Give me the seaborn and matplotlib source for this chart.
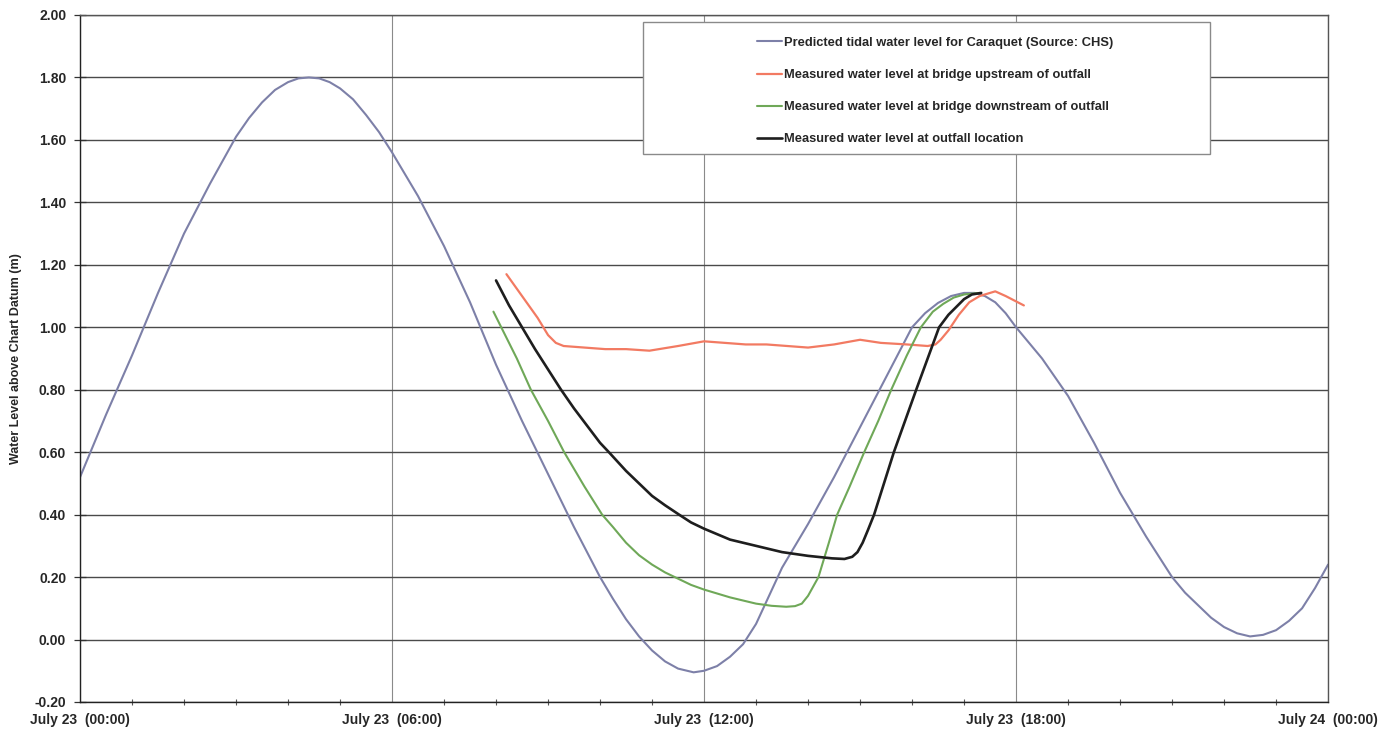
import matplotlib
matplotlib.use("Agg")
import matplotlib.pyplot as plt
import numpy as np
import pandas as pd
import seaborn as sns
from matplotlib.patches import Rectangle
from matplotlib.ticker import MultipleLocator, FormatStrFormatter, FixedLocator

# ---------------- data (hours since July 23 00:00, metres above chart datum) ----------------
tide_hours = [0.0, 0.5, 1.0, 1.5, 2.0, 2.5, 3.0, 3.25, 3.5, 3.75, 4.0, 4.2, 4.4, 4.6, 4.8, 5.0,
              5.25, 5.5, 5.75, 6.0, 6.5, 7.0, 7.5, 8.0, 8.5, 9.0, 9.5, 10.0, 10.25, 10.5, 10.75,
              11.0, 11.25, 11.5, 11.8, 12.0, 12.25, 12.5, 12.75, 13.0, 13.25, 13.5, 14.0, 14.5,
              15.0, 15.5, 16.0, 16.25, 16.5, 16.75, 17.0, 17.2, 17.4, 17.6, 17.8, 18.0, 18.5,
              19.0, 19.5, 20.0, 20.5, 21.0, 21.25, 21.5, 21.75, 22.0, 22.25, 22.5, 22.75, 23.0,
              23.25, 23.5, 23.75, 24.0]
tide_level = [0.52, 0.72, 0.91, 1.11, 1.30, 1.46, 1.61, 1.67, 1.72, 1.76, 1.785, 1.797, 1.80,
              1.797, 1.785, 1.765, 1.73, 1.68, 1.625, 1.56, 1.42, 1.26, 1.08, 0.88, 0.70, 0.53,
              0.36, 0.20, 0.13, 0.065, 0.01, -0.035, -0.07, -0.093, -0.105, -0.10, -0.085, -0.055,
              -0.015, 0.05, 0.14, 0.23, 0.37, 0.52, 0.68, 0.84, 1.00, 1.045, 1.078, 1.10, 1.11,
              1.11, 1.10, 1.08, 1.045, 1.00, 0.90, 0.78, 0.63, 0.47, 0.33, 0.20, 0.15, 0.11, 0.07,
              0.04, 0.02, 0.01, 0.015, 0.03, 0.06, 0.10, 0.165, 0.24]

up_hours = [8.2, 8.5, 8.8, 9.0, 9.15, 9.3, 9.7, 10.1, 10.5, 10.95, 11.5, 12.0, 12.4, 12.8, 13.2,
            13.6, 14.0, 14.5, 15.0, 15.4, 15.9, 16.3, 16.45, 16.55, 16.7, 16.9, 17.1, 17.3,
            17.6, 17.8, 18.15]
up_level = [1.17, 1.10, 1.03, 0.975, 0.95, 0.94, 0.935, 0.93, 0.93, 0.925, 0.94, 0.955, 0.95,
            0.945, 0.945, 0.94, 0.935, 0.945, 0.96, 0.95, 0.945, 0.94, 0.945, 0.96, 0.99, 1.04,
            1.08, 1.10, 1.115, 1.10, 1.07]

down_hours = [7.95, 8.1, 8.4, 8.67, 9.0, 9.31, 9.7, 10.04, 10.25, 10.5, 10.75, 11.0, 11.25,
              11.5, 11.75, 12.0, 12.5, 13.0, 13.3, 13.58, 13.75, 13.88, 14.0, 14.1, 14.2, 14.4,
              14.56, 14.8, 15.08, 15.35, 15.6, 15.9, 16.17, 16.4, 16.6, 16.8, 17.0, 17.3]
down_level = [1.05, 1.00, 0.90, 0.80, 0.70, 0.60, 0.49, 0.40, 0.36, 0.31, 0.27, 0.24, 0.215,
              0.195, 0.175, 0.16, 0.135, 0.115, 0.108, 0.105, 0.107, 0.115, 0.14, 0.17, 0.20,
              0.31, 0.40, 0.49, 0.60, 0.70, 0.80, 0.91, 1.00, 1.05, 1.075, 1.095, 1.105, 1.11]

out_hours = [8.0, 8.25, 8.5, 8.75, 9.0, 9.25, 9.5, 9.75, 10.0, 10.17, 10.5, 10.75, 11.0, 11.25,
             11.52, 11.75, 12.0, 12.5, 13.0, 13.5, 14.0, 14.46, 14.7, 14.85, 14.95, 15.05,
             15.15, 15.27, 15.65, 16.08, 16.52, 16.7, 16.85, 17.0, 17.15, 17.33]
out_level = [1.15, 1.07, 1.00, 0.93, 0.865, 0.80, 0.74, 0.685, 0.63, 0.60, 0.54, 0.50, 0.46,
             0.43, 0.40, 0.375, 0.355, 0.32, 0.30, 0.28, 0.268, 0.26, 0.258, 0.265, 0.28, 0.31,
             0.35, 0.40, 0.60, 0.80, 1.00, 1.04, 1.065, 1.09, 1.105, 1.11]

series_names = ["Predicted tidal water level for Caraquet (Source: CHS)",
                "Measured water level at bridge upstream of outfall",
                "Measured water level at bridge downstream of outfall",
                "Measured water level at outfall location"]
series_colors = ["#7d80a8", "#f27a62", "#6fa858", "#1e1e1e"]
series_widths = [1.5, 1.6, 1.5, 1.9]

x_tick_hours = [0, 6, 12, 18, 24]
x_tick_labels = ["July 23  (00:00)", "July 23  (06:00)", "July 23  (12:00)",
                 "July 23  (18:00)", "July 24  (00:00)"]
y_label = "Water Level above Chart Datum (m)"

# ---------------- build long table ----------------
frames = []
for name, hrs, lev in zip(series_names,
                          [tide_hours, up_hours, down_hours, out_hours],
                          [tide_level, up_level, down_level, out_level]):
    frames.append(pd.DataFrame({"hour": hrs, "level": lev, "series": name}))
df = pd.concat(frames, ignore_index=True)

# ---------------- style ----------------
sns.set_theme(style="white")
plt.rcParams["font.family"] = ["Liberation Sans", "DejaVu Sans"]
plt.rcParams["font.weight"] = "bold"
plt.rcParams["lines.solid_joinstyle"] = "round"

fig = plt.figure(figsize=(13.99, 7.35), dpi=100)
ax = fig.add_axes([0.0572, 0.0449, 0.8921, 0.9347])

# grid
ax.set_axisbelow(True)
ax.yaxis.grid(True, color="#4a4a4a", linewidth=1.0)
ax.xaxis.grid(True, color="#8a8a8a", linewidth=0.8)

for name, col, lw in zip(series_names, series_colors, series_widths):
    sub = df[df["series"] == name]
    sns.lineplot(data=sub, x="hour", y="level", color=col, linewidth=lw,
                 estimator=None, sort=False, ax=ax, label=name, legend=False)

ax.set_xlim(0, 24)
ax.set_ylim(-0.2, 2.0)
ax.xaxis.set_major_locator(FixedLocator(x_tick_hours))
ax.set_xticklabels(x_tick_labels)
ax.xaxis.set_minor_locator(MultipleLocator(1))
ax.yaxis.set_major_locator(MultipleLocator(0.2))
ax.yaxis.set_major_formatter(FormatStrFormatter("%.2f"))

ax.tick_params(axis="x", which="major", direction="inout", length=8, width=0.9,
               labelsize=10, pad=4, color="#333333")
ax.tick_params(axis="x", which="minor", direction="inout", length=5, width=0.8,
               color="#555555", bottom=True)
ax.tick_params(axis="y", which="major", direction="inout", length=8, width=0.9,
               labelsize=10, pad=6, color="#333333", left=True)
for lab in ax.get_xticklabels() + ax.get_yticklabels():
    lab.set_fontweight("bold")

ax.set_xlabel("")
ax.set_ylabel(y_label, fontsize=9, fontweight="bold", labelpad=9)

for side in ["left", "bottom"]:
    ax.spines[side].set_color("#222222")
    ax.spines[side].set_linewidth(1.0)
for side in ["top", "right"]:
    ax.spines[side].set_color("#555555")
    ax.spines[side].set_linewidth(1.0)

# legend box
box = Rectangle((0.451, 0.797), 0.454, 0.193, transform=ax.transAxes,
                facecolor="white", edgecolor="#8a8a8a", linewidth=1.0, zorder=4)
ax.add_patch(box)
handles, labels = ax.get_legend_handles_labels()
leg = ax.legend(handles, labels, loc="upper left", bbox_to_anchor=(0.5425, 0.968),
                frameon=False, borderpad=0, borderaxespad=0, handlelength=1.9,
                handletextpad=0.2, labelspacing=1.55,
                prop={"size": 9.3, "weight": "bold"})
leg.set_zorder(6)

fig.savefig("out.png", dpi=100)
